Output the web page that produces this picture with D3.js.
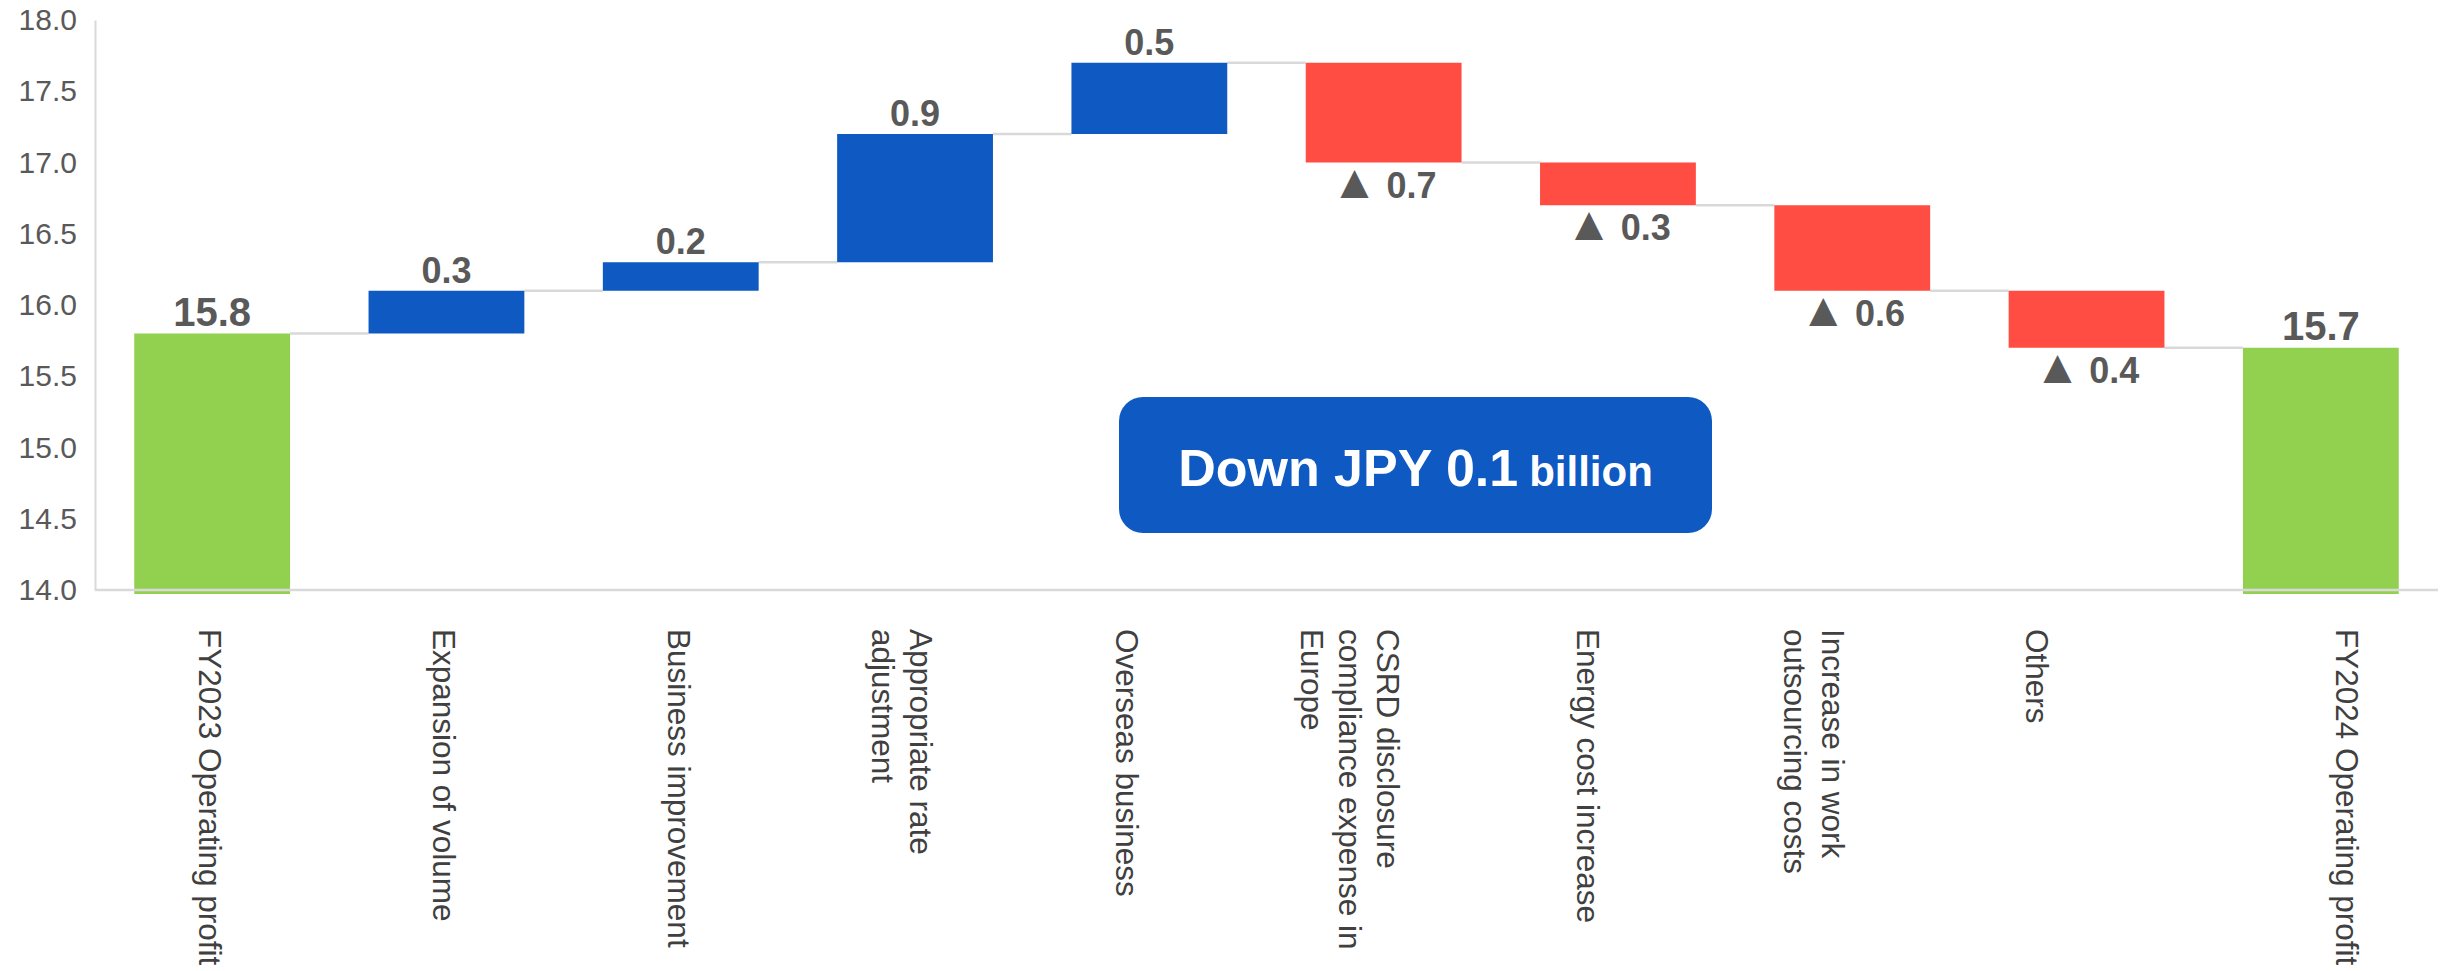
<!DOCTYPE html>
<html>
<head>
<meta charset="utf-8">
<style>
  body { margin: 0; background: #fff; }
  svg { display: block; font-family: "Liberation Sans", Arial, sans-serif; }
</style>
</head>
<body>
<svg width="2447" height="971"></svg>
<script src="https://cdn.jsdelivr.net/npm/d3@7/dist/d3.min.js"></script>
<script>

// Operating profit bridge FY2023 -> FY2024 (JPY billion)

var categories = ["FY2023", "Volume", "Improvement", "Rate", "Overseas", "CSRD", "Energy", "Outsourcing", "Others", "FY2024"];
var labelLines = [
  ["FY2023 Operating profit"],
  ["Expansion of volume"],
  ["Business improvement"],
  ["Appropriate rate", "adjustment"],
  ["Overseas business"],
  ["CSRD disclosure", "compliance expense in", "Europe"],
  ["Energy cost increase"],
  ["Increase in work", "outsourcing costs"],
  ["Others"],
  ["FY2024 Operating profit"]
];
var values = [15.8, 0.3, 0.2, 0.9, 0.5, -0.7, -0.3, -0.6, -0.4, 15.7];
var isTotal = [true, false, false, false, false, false, false, false, false, true];
var yTicks = [14.0, 14.5, 15.0, 15.5, 16.0, 16.5, 17.0, 17.5, 18.0];
var summaryText = ["Down JPY 0.1", "billion"];

// the category labels in the original sit a little off their bars
var labelNudge = [-8, -8, -8, 0, -28, -2, -36, -25, -56, 20];

var svg = d3.select("svg"),
    grey = "#595959",
    lineGrey = "#d9d9d9";

var x = d3.scaleBand()
    .domain(categories)
    .range([95, 2438])
    .paddingInner(0.335)
    .paddingOuter(0.1675);

var y = d3.scaleLinear()
    .domain([14, 18])
    .range([590, 20]);

// running totals for the waterfall
var total = 0;
var bars = values.map(function(v, i) {
  var d = {cat: categories[i], value: v, total: isTotal[i]};
  if (d.total) {
    d.start = y.domain()[0];
    d.end = v;
    total = v;
  } else {
    d.start = total;
    d.end = total + v;
    total = d.end;
  }
  d.lo = Math.min(d.start, d.end);
  d.hi = Math.max(d.start, d.end);
  return d;
});

function colour(d) {
  if (d.total) return "#92d050";
  return d.value >= 0 ? "#0f59c3" : "#ff4d43";
}

// y axis
var yAxis = svg.append("g")
    .attr("transform", "translate(" + x.range()[0] + ",0)")
    .call(d3.axisLeft(y).tickValues(yTicks).tickFormat(d3.format(".1f")).tickSize(0).tickSizeOuter(0).tickPadding(18));
yAxis.select(".domain").attr("stroke", lineGrey).attr("stroke-width", 2);
yAxis.selectAll("text")
    .attr("fill", grey)
    .style("font-size", "30px")
    .style("font-family", "'Liberation Sans', Arial, sans-serif");

// connectors between bars
svg.append("g").selectAll("line")
  .data(bars.slice(0, -1))
  .join("line")
    .attr("x1", function(d) { return x(d.cat) + x.bandwidth(); })
    .attr("x2", function(d, i) { return x(categories[i + 1]); })
    .attr("y1", function(d) { return y(d.end); })
    .attr("y2", function(d) { return y(d.end); })
    .attr("stroke", lineGrey)
    .attr("stroke-width", 2.5);

// bars
svg.append("g").selectAll("rect")
  .data(bars)
  .join("rect")
    .attr("x", function(d) { return x(d.cat); })
    .attr("width", x.bandwidth())
    .attr("y", function(d) { return y(d.hi); })
    .attr("height", function(d) { return y(d.lo) - y(d.hi) + (d.total ? 4 : 0); })
    .attr("fill", colour);

// baseline drawn over the total bars
svg.append("line")
    .attr("x1", x.range()[0])
    .attr("x2", x.range()[1])
    .attr("y1", y(14))
    .attr("y2", y(14))
    .attr("stroke", lineGrey)
    .attr("stroke-width", 2.5);

// value labels
var vl = svg.append("g").selectAll("text")
  .data(bars)
  .join("text")
    .attr("x", function(d) { return x(d.cat) + x.bandwidth() / 2; })
    .attr("y", function(d) { return d.value >= 0 ? y(d.hi) - 8 : y(d.lo) + 35; })
    .attr("text-anchor", "middle")
    .attr("fill", grey)
    .attr("font-weight", "bold")
    .style("font-size", function(d) { return d.total ? "40px" : "36px"; });

vl.filter(function(d) { return d.value < 0; })
  .append("tspan")
    .style("font-size", "48px")
    .text("\u25B2");
vl.append("tspan")
    .attr("dx", function(d) { return d.value < 0 ? 8 : 0; })
    .text(function(d) { return d3.format(".1f")(Math.abs(d.value)); });

// category labels, rotated to read downwards
var xl = svg.append("g").selectAll("text")
  .data(bars)
  .join("text")
    .attr("transform", function(d, i) {
      return "translate(" + (x(d.cat) + x.bandwidth() / 2 - 5 + labelNudge[i]) + ",629) rotate(90)";
    })
    .attr("fill", "#404040")
    .style("font-size", "31.5px");

xl.selectAll("tspan")
  .data(function(d, i) { return labelLines[i]; })
  .join("tspan")
    .attr("x", 0)
    .attr("y", function(d, i) { return i * 38; })
    .text(function(d) { return d; });

// summary box
var box = svg.append("g");
box.append("rect")
    .attr("x", 1119)
    .attr("y", 397)
    .attr("width", 593)
    .attr("height", 136)
    .attr("rx", 24)
    .attr("fill", "#0f59c3");

var st = box.append("text")
    .attr("x", 1119 + 593 / 2)
    .attr("y", 486)
    .attr("text-anchor", "middle")
    .attr("fill", "#fff")
    .attr("font-weight", "bold");
st.append("tspan").style("font-size", "52px").text(summaryText[0]);
st.append("tspan").attr("dx", 11).style("font-size", "42px").text(summaryText[1]);

</script>
</body>
</html>
